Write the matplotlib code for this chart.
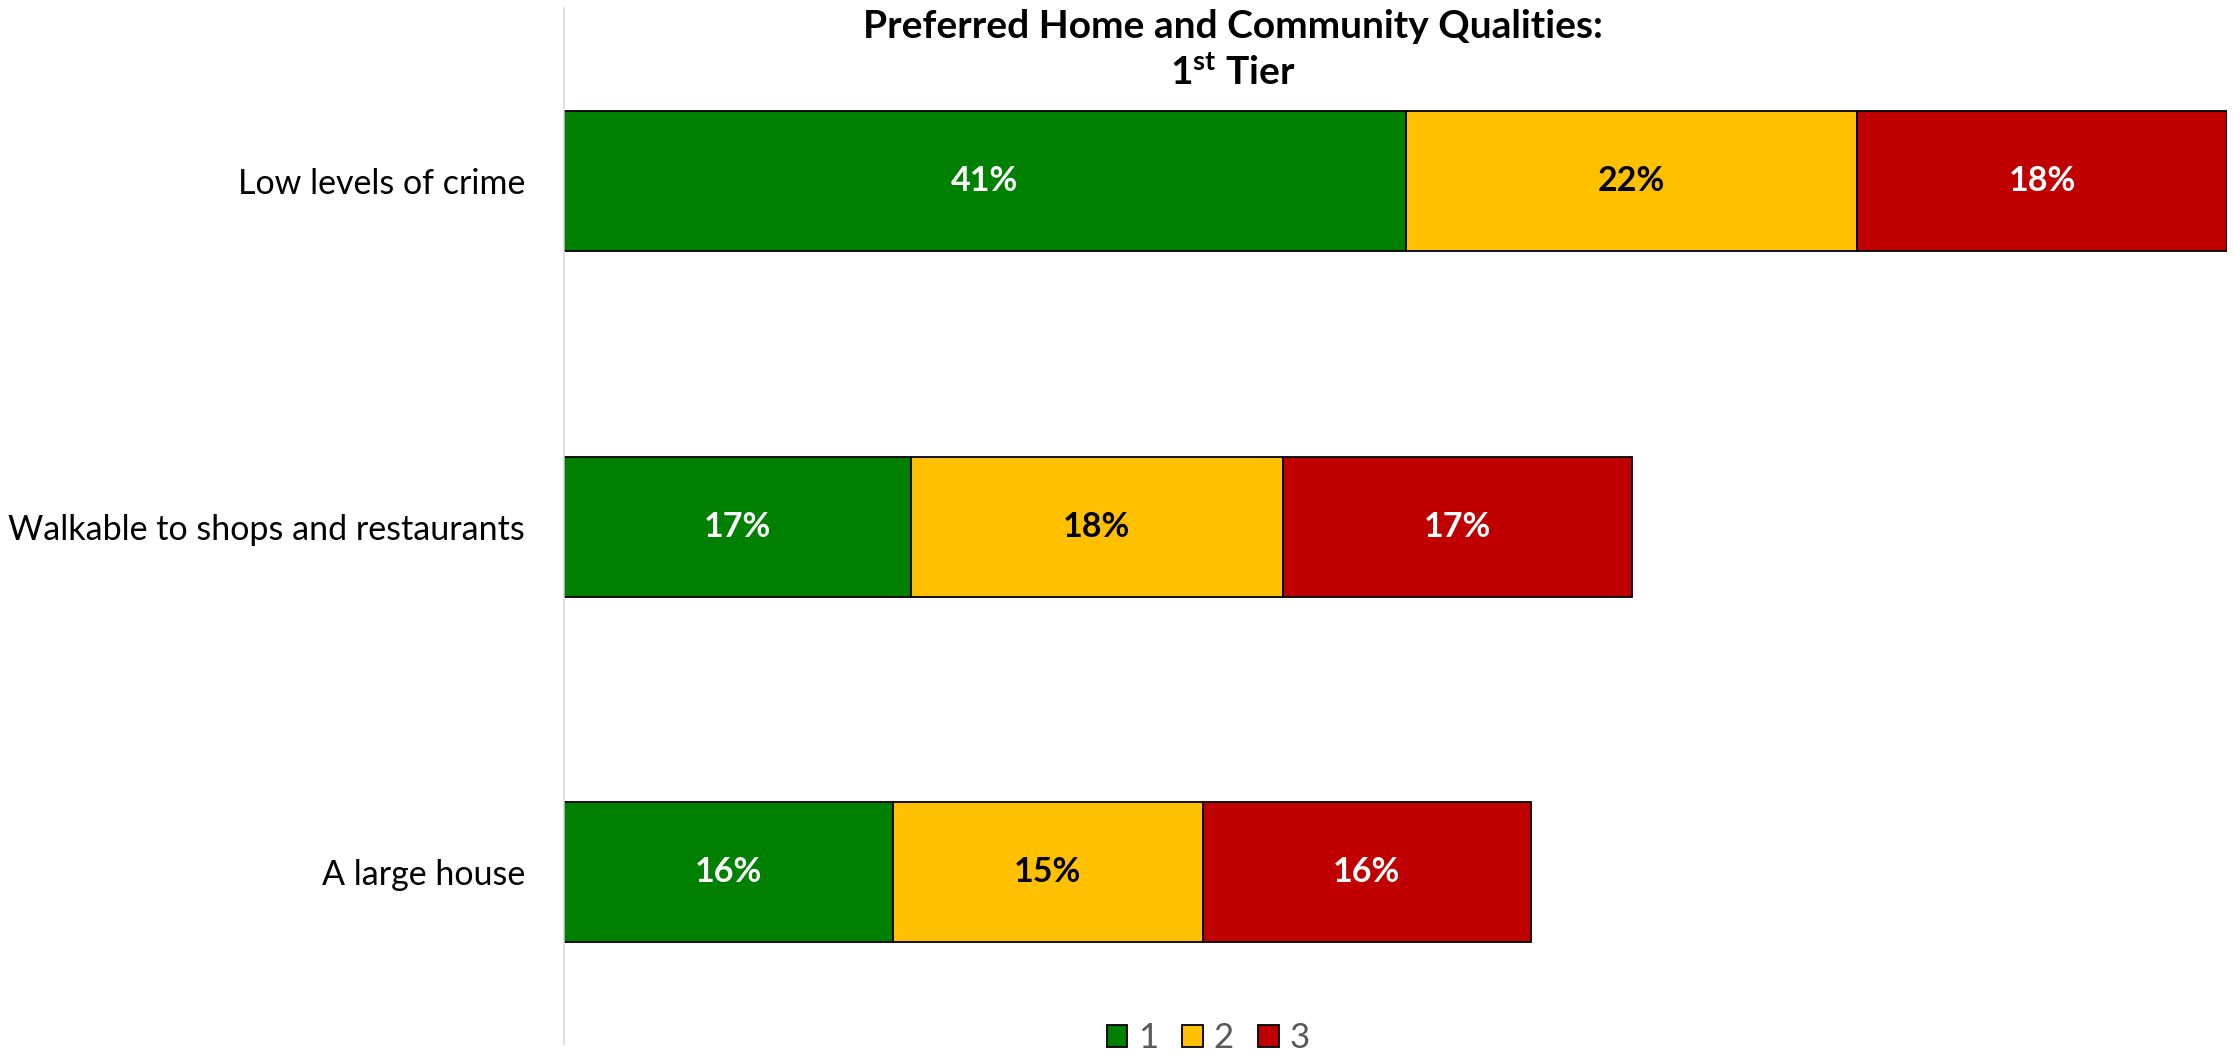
import matplotlib
matplotlib.use("Agg")
import matplotlib.pyplot as plt
from matplotlib.patches import Patch
import numpy as np

plt.rcParams['font.family'] = ['Lato', 'DejaVu Sans']
plt.rcParams['mathtext.fontset'] = 'custom'
plt.rcParams['mathtext.rm'] = 'Lato:bold'
plt.rcParams['mathtext.bf'] = 'Lato:bold'

# data (percent), top to bottom
categories = ["Low levels of crime", "Walkable to shops and restaurants", "A large house"]
series_names = ["1", "2", "3"]
tier1 = [41.0, 16.9, 16.0]
tier2 = [22.0, 18.1, 15.1]
tier3 = [18.0, 17.0, 16.0]
colors = ["#008000", "#FFC000", "#C00000"]
label_colors = ["white", "black", "white"]

fig = plt.figure(figsize=(22.33, 10.58), dpi=100)
ax = fig.add_axes([0.2526, 0.0123, 0.7447, 0.9801])

y = np.arange(len(categories))[::-1]
left = np.zeros(len(categories))
for vals, col, lc in zip([tier1, tier2, tier3], colors, label_colors):
    vals = np.array(vals)
    ax.barh(y, vals, left=left, height=0.405, color=col, edgecolor="black", linewidth=1.3)
    for yi, l, v in zip(y, left, vals):
        ax.text(l + v / 2, yi, f"{v:.0f}%", ha="center", va="center",
                color=lc, fontsize=24.5, fontweight="bold")
    left = left + vals

ax.set_xlim(0, left.max())
ax.set_ylim(-0.5, len(categories) - 0.5)
ax.set_yticks(y)
ax.set_yticklabels(categories, fontsize=24.5)
ax.tick_params(axis="y", length=0, pad=28)
ax.set_xticks([])
for s in ["top", "right", "bottom"]:
    ax.spines[s].set_visible(False)
ax.spines["left"].set_color("#d9d9d9")
ax.spines["left"].set_linewidth(1.1)

fig.text(0.552, 0.9754, "Preferred Home and Community Qualities:", ha="center", va="center",
         fontsize=28, fontweight="bold")
fig.text(0.552, 0.931, r"1$^{\mathrm{st}}$ Tier", ha="center", va="center",
         fontsize=28, fontweight="bold")

handles = [Patch(facecolor=c, edgecolor="black", linewidth=1.3) for c in colors]
leg = fig.legend(handles, series_names, loc="center", bbox_to_anchor=(0.541, 0.019), ncol=3,
                 frameon=False, fontsize=25, handlelength=0.6, handleheight=0.6,
                 handletextpad=0.3, columnspacing=0.7)
for t in leg.get_texts():
    t.set_color("#595959")

fig.savefig("out.png", dpi=100)
